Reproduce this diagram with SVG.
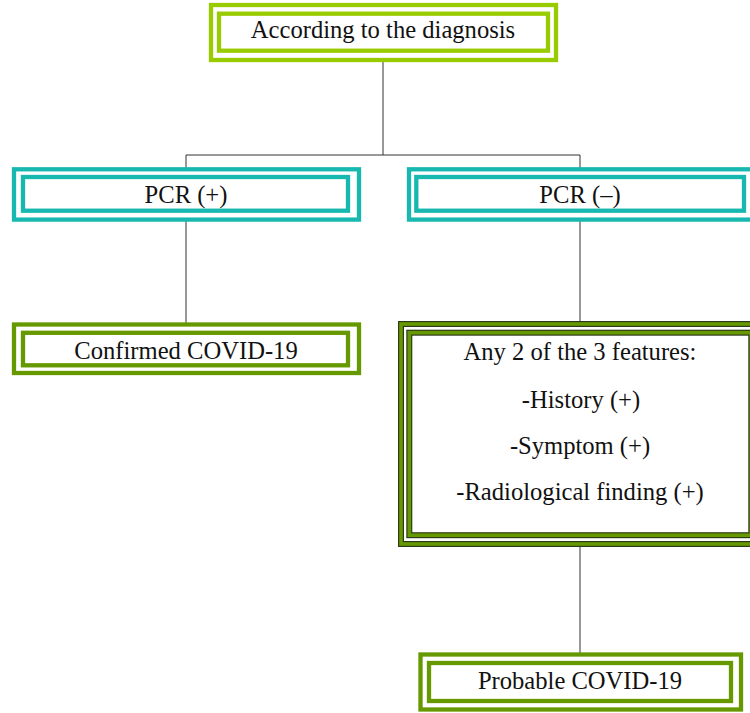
<svg xmlns="http://www.w3.org/2000/svg" width="750" height="713" viewBox="0 0 750 713">
<style>
  .conn { stroke: #333333; stroke-width: 1; fill: none; }
  .lime { stroke: #99cc00; stroke-width: 4.3; fill: #ffffff; }
  .lime-in { stroke: #99cc00; stroke-width: 4.3; fill: none; }
  .teal { stroke: #17b8af; stroke-width: 4.3; fill: #ffffff; }
  .teal-in { stroke: #17b8af; stroke-width: 4.3; fill: none; }
  .olive { stroke: #669900; stroke-width: 4.3; fill: #ffffff; }
  .olive-in { stroke: #669900; stroke-width: 4.3; fill: none; }
  .band-dark { stroke: #2e3b1a; stroke-width: 6; fill: none; }
  .band-green { stroke: #669900; stroke-width: 3.6; fill: none; }
  text { font-family: "Liberation Serif", "Times New Roman", serif; font-size: 24.6px; fill: #111111; text-anchor: middle; }
</style>
<rect width="750" height="713" fill="#ffffff"/>
<g id="connectors">
  <line class="conn" x1="383" y1="62" x2="383" y2="155"/>
  <line class="conn" x1="186" y1="155" x2="580" y2="155"/>
  <line class="conn" x1="186" y1="155" x2="186" y2="323"/>
  <line class="conn" x1="580" y1="155" x2="580" y2="322"/>
  <line class="conn" x1="580" y1="547" x2="580" y2="653"/>
</g>
<g id="node-diagnosis">
  <rect class="lime" x="211" y="5" width="345" height="55"/>
  <rect class="lime-in" x="219" y="13.7" width="329" height="37"/>
  <text x="383" y="38">According to the diagnosis</text>
</g>
<g id="node-pcr-pos">
  <rect class="teal" x="14" y="169.3" width="345" height="50.3"/>
  <rect class="teal-in" x="23" y="177" width="325" height="33.7"/>
  <text x="186" y="203">PCR (+)</text>
</g>
<g id="node-pcr-neg">
  <rect class="teal" x="409" y="169.3" width="360" height="50.3"/>
  <rect class="teal-in" x="416.3" y="177" width="327.7" height="33.7"/>
  <text x="580" y="203">PCR (–)</text>
</g>
<g id="node-confirmed">
  <rect class="olive" x="14" y="324.5" width="345" height="48.5"/>
  <rect class="olive-in" x="23" y="332.8" width="325" height="32.5"/>
  <text x="186" y="359">Confirmed COVID-19</text>
</g>
<g id="node-features">
  <rect x="401" y="324" width="360" height="220" fill="#ffffff"/>
  <rect class="band-dark" x="401" y="324" width="360" height="220"/>
  <rect class="band-green" x="401" y="324" width="360" height="220"/>
  <rect class="band-dark" x="409.3" y="332.7" width="342" height="202.5"/>
  <rect class="band-green" x="409.3" y="332.7" width="342" height="202.5"/>
  <text x="580" y="360">Any 2 of the 3 features:</text>
  <text x="581" y="408">-History (+)</text>
  <text x="580" y="454">-Symptom (+)</text>
  <text x="580" y="500">-Radiological finding (+)</text>
</g>
<g id="node-probable">
  <rect class="olive" x="420.5" y="654.5" width="320.5" height="55"/>
  <rect class="olive-in" x="429" y="663" width="302" height="38"/>
  <text x="580" y="689">Probable COVID-19</text>
</g>
</svg>
